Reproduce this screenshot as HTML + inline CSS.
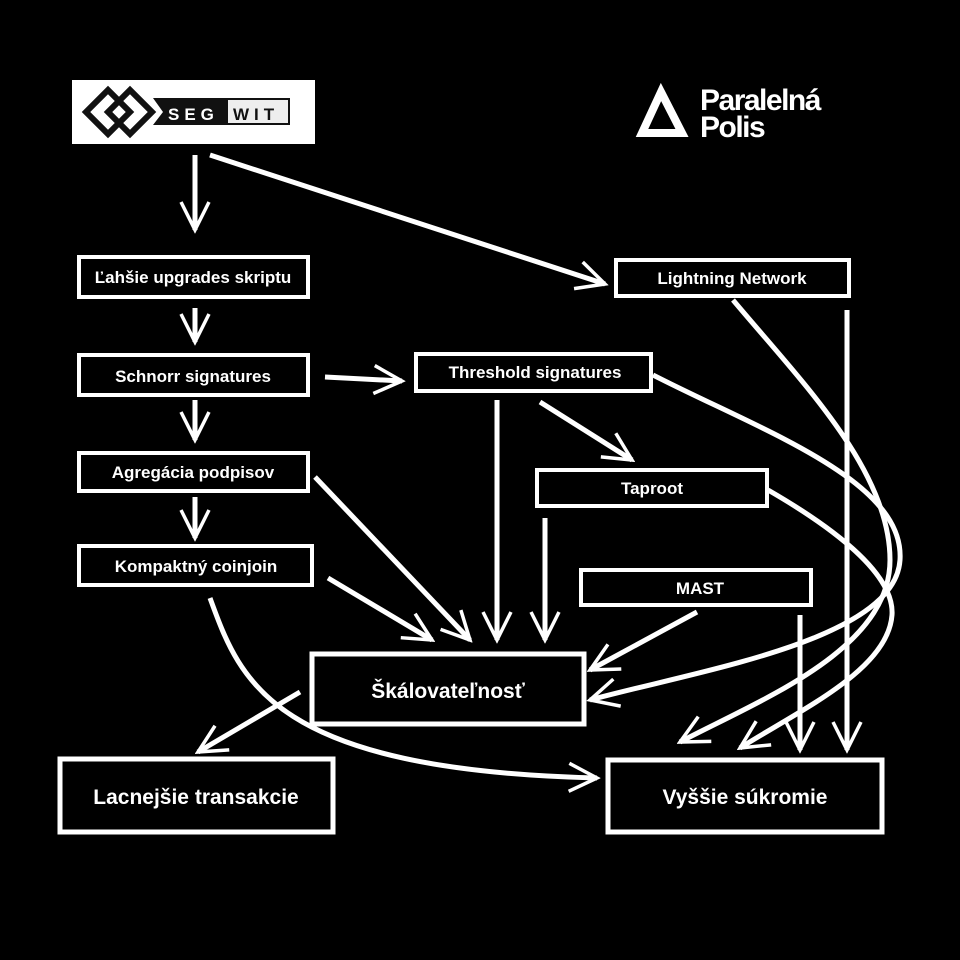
<!DOCTYPE html>
<html><head><meta charset="utf-8"><style>
body{margin:0;background:#000;}
svg{display:block}
text{font-family:"Liberation Sans",sans-serif;font-weight:bold;fill:#fff}
</style></head><body>
<svg width="960" height="960" viewBox="0 0 960 960">
<rect width="960" height="960" fill="#000"/>
<rect x="72" y="80" width="243" height="64" fill="#fff"/>
<g fill="none" stroke="#111" stroke-width="6">
<path d="M86,112 L108,90 L130,112 L108,134 Z"/>
<path d="M108,112 L130,90 L152,112 L130,134 Z"/>
</g>
<path d="M153,98 L290,98 L290,125 L153,125 L163,112 Z" fill="#111"/>
<rect x="228" y="100" width="60" height="23" fill="#eee"/>
<text x="168" y="120" font-size="17" letter-spacing="5">SEG</text>
<text x="233" y="120" font-size="17" letter-spacing="5" style="fill:#111">WIT</text>
<path d="M661,92 L682,133 L642,133 Z" fill="none" stroke="#fff" stroke-width="8" stroke-linejoin="miter"/>
<text x="700" y="110" font-size="30" letter-spacing="-1.5">Paralelná</text>
<text x="700" y="137" font-size="30" letter-spacing="-1.5">Polis</text>
<g fill="none" stroke="#fff" stroke-width="4">
<rect x="79" y="257" width="229" height="40"/>
<rect x="616" y="260" width="233" height="36"/>
<rect x="79" y="355" width="229" height="40"/>
<rect x="416" y="354" width="235" height="37"/>
<rect x="79" y="453" width="229" height="38"/>
<rect x="537" y="470" width="230" height="36"/>
<rect x="79" y="546" width="233" height="39"/>
<rect x="581" y="570" width="230" height="35"/>
<rect x="312" y="654" width="272" height="70" stroke-width="5"/>
<rect x="60" y="759" width="273" height="73" stroke-width="5"/>
<rect x="608" y="760" width="274" height="72" stroke-width="5"/>
</g>
<g font-size="17" text-anchor="middle">
<text x="193" y="283">Ľahšie upgrades skriptu</text>
<text x="732" y="284">Lightning Network</text>
<text x="193" y="382">Schnorr signatures</text>
<text x="535" y="378">Threshold signatures</text>
<text x="193" y="478">Agregácia podpisov</text>
<text x="652" y="494">Taproot</text>
<text x="196" y="572">Kompaktný coinjoin</text>
<text x="700" y="594">MAST</text>
</g>
<g font-size="21" text-anchor="middle">
<text x="448" y="698">Škálovateľnosť</text>
<text x="196" y="804">Lacnejšie transakcie</text>
<text x="745" y="804">Vyššie súkromie</text>
</g>
<defs>
<marker id="a" viewBox="0 0 10 10" refX="9" refY="5" markerWidth="7" markerHeight="7" orient="auto" markerUnits="strokeWidth">
<path d="M1,1 L9,5 L1,9" fill="none" stroke="#fff" stroke-width="1"/>
</marker>
</defs>
<g fill="none" stroke="#fff" stroke-width="5" marker-end="url(#a)">
<path d="M195,155 L195,230"/>
<path d="M210,155 L605,284"/>
<path d="M195,308 L195,342"/>
<path d="M195,400 L195,440"/>
<path d="M195,497 L195,538"/>
<path d="M325,377 L402,381"/>
<path d="M540,402 L632,460"/>
<path d="M497,400 L497,640"/>
<path d="M545,518 L545,640"/>
<path d="M315,477 L470,640"/>
<path d="M328,578 L432,640"/>
<path d="M697,612 L590,670"/>
<path d="M847,310 L847,750"/>
<path d="M800,615 L800,750"/>
<path d="M300,692 L198,752"/>
<path d="M210,598 C240,680 270,770 597,778"/>
<path d="M653,375 C760,430 905,480 900,560 C895,640 700,670 590,700"/>
<path d="M733,300 C800,380 890,470 890,560 C890,650 760,700 680,742"/>
<path d="M768,490 C820,520 895,570 892,615 C888,670 800,710 740,748"/>
</g>
</svg>
</body></html>
